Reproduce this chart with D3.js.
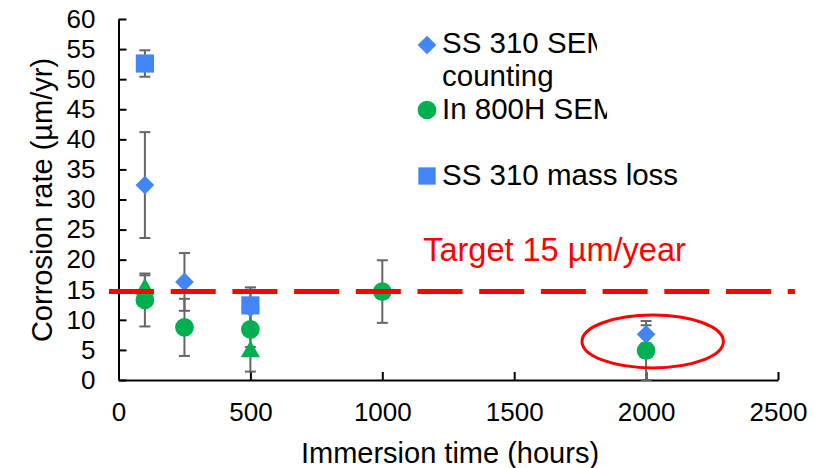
<!DOCTYPE html>
<html>
<head>
<meta charset="utf-8">
<script src="https://cdn.jsdelivr.net/npm/d3@7"></script>
<style>
  body { margin: 0; background: #fff; }
  text { font-family: "Liberation Sans", Arial, sans-serif; }
</style>
</head>
<body>
<div id="chart"></div>
<script>
// data
var ssSemHours = [100, 250, 500, 2000];
var ssSemRate = [32.4, 16.3, 12.0, 7.6];
var ssSemErr = [8.8, 4.8, 3.0, 1.5];

var inSemHours = [100, 250, 500, 1000, 2000];
var inSemRate = [13.3, 8.75, 8.4, 14.7, 4.9];
var inSemErr = [4.4, 4.75, 2.9, 5.2, 4.9];

var inMassHours = [100, 500];
var inMassRate = [15.1, 4.7];
var inMassErr = [2.3, 3.3];

var ssMassHours = [100, 500];
var ssMassRate = [52.6, 12.4];
var ssMassErr = [2.2, 3.0];

var xTicks = [0, 500, 1000, 1500, 2000, 2500];
var yTicks = [0, 5, 10, 15, 20, 25, 30, 35, 40, 45, 50, 55, 60];

var targetRate = 14.7;
var targetLabel = "Target 15 µm/year";
var legendLabels = ["SS 310 SEM image", "counting", "In 800H SEM image", "SS 310 mass loss"];

var blue = "#4285f4", green = "#00b050", red = "#ff0000", errGrey = "#666";

var width = 821, height = 468;

var svg = d3.select("#chart").append("svg")
    .attr("width", width)
    .attr("height", height);

var x = d3.scaleLinear().domain([0, 2500]).range([118.5, 778]);
var y = d3.scaleLinear().domain([0, 60]).range([380, 19]);

// axes
var xAxis = svg.append("g")
    .attr("transform", "translate(0,380)")
    .call(d3.axisBottom(x).tickValues(xTicks).tickFormat(d3.format("d"))
        .tickSizeInner(-8).tickSizeOuter(0).tickPadding(23));
var yAxis = svg.append("g")
    .attr("transform", "translate(118.5,0)")
    .call(d3.axisLeft(y).tickValues(yTicks).tickFormat(d3.format("d"))
        .tickSizeInner(-8).tickSizeOuter(0).tickPadding(23));

[xAxis, yAxis].forEach(function(a) {
    a.select(".domain").attr("stroke", "#000").attr("stroke-width", 2);
    a.selectAll(".tick line").attr("stroke", "#000").attr("stroke-width", 2);
    a.selectAll(".tick text").attr("fill", "#000").style("font-size", "26px")
        .style("font-family", "'Liberation Sans', Arial, sans-serif");
});

// axis titles
svg.append("text")
    .attr("x", 450)
    .attr("y", 463)
    .attr("text-anchor", "middle")
    .style("font-size", "29px")
    .text("Immersion time (hours)");

svg.append("text")
    .attr("transform", "translate(52,200) rotate(-90)")
    .attr("text-anchor", "middle")
    .style("font-size", "29px")
    .text("Corrosion rate (µm/yr)");

// error bars
function errorBars(hours, rate, err) {
    var g = svg.append("g").attr("stroke", errGrey).attr("stroke-width", 2);
    hours.forEach(function(h, i) {
        var lo = Math.max(rate[i] - err[i], 0), hi = rate[i] + err[i];
        g.append("line")
            .attr("x1", x(h)).attr("x2", x(h))
            .attr("y1", y(lo)).attr("y2", y(hi));
        [lo, hi].forEach(function(v) {
            g.append("line")
                .attr("x1", x(h) - 5.5).attr("x2", x(h) + 5.5)
                .attr("y1", y(v)).attr("y2", y(v));
        });
    });
}
errorBars(ssSemHours, ssSemRate, ssSemErr);
errorBars(inSemHours, inSemRate, inSemErr);
errorBars(inMassHours, inMassRate, inMassErr);
errorBars(ssMassHours, ssMassRate, ssMassErr);

// markers
function markers(hours, rate, type, size, color, rot) {
    svg.append("g").selectAll("path")
        .data(hours)
        .enter()
        .append("path")
            .attr("d", d3.symbol().type(type).size(size))
            .attr("transform", function(d, i) {
                return "translate(" + x(d) + "," + y(rate[i]) + ") rotate(" + (rot || 0) + ")";
            })
            .attr("fill", color);
}
markers(ssSemHours, ssSemRate, d3.symbolSquare, 175, blue, 45);
markers(inMassHours, inMassRate, d3.symbolTriangle, 161, green);
markers(inSemHours, inSemRate, d3.symbolCircle, 275, green);
markers(ssMassHours, ssMassRate, d3.symbolSquare, 330, blue);

// target line
svg.append("line")
    .attr("x1", x(-36)).attr("x2", x(2564))
    .attr("y1", y(targetRate)).attr("y2", y(targetRate))
    .attr("stroke", red)
    .attr("stroke-width", 5)
    .attr("stroke-dasharray", "45,16.7");

svg.append("text")
    .attr("x", x(1155))
    .attr("y", y(19.7))
    .attr("fill", red)
    .style("font-size", "32.5px")
    .text(targetLabel);

// ellipse round the 2000 h points
svg.append("ellipse")
    .attr("cx", x(2025))
    .attr("cy", y(6.4))
    .attr("rx", x(2025) - x(1757))
    .attr("ry", y(2) - y(6.4))
    .attr("fill", "none")
    .attr("stroke", red)
    .attr("stroke-width", 3);

// legend (text is cut off in the original)
var defs = svg.append("defs");
defs.append("clipPath").attr("id", "clipA")
    .append("rect").attr("x", 430).attr("y", 0).attr("width", 167).attr("height", 70);
defs.append("clipPath").attr("id", "clipB")
    .append("rect").attr("x", 430).attr("y", 90).attr("width", 177).attr("height", 40);

var legend = svg.append("g");
legend.append("path")
    .attr("d", d3.symbol().type(d3.symbolSquare).size(175))
    .attr("transform", "translate(427,45) rotate(45)")
    .attr("fill", blue);
legend.append("path")
    .attr("d", d3.symbol().type(d3.symbolCircle).size(275))
    .attr("transform", "translate(427,110)")
    .attr("fill", green);
legend.append("path")
    .attr("d", d3.symbol().type(d3.symbolSquare).size(300))
    .attr("transform", "translate(427,176)")
    .attr("fill", blue);

legend.selectAll("text.lab")
    .data(legendLabels)
    .enter()
    .append("text")
        .attr("class", "lab")
        .attr("x", 442)
        .attr("y", function(d, i) { return [53, 86, 119, 185][i]; })
        .attr("clip-path", function(d, i) {
            return i === 0 ? "url(#clipA)" : (i === 2 ? "url(#clipB)" : null);
        })
        .style("font-size", "29.5px")
        .text(function(d) { return d; });
</script>
</body>
</html>
